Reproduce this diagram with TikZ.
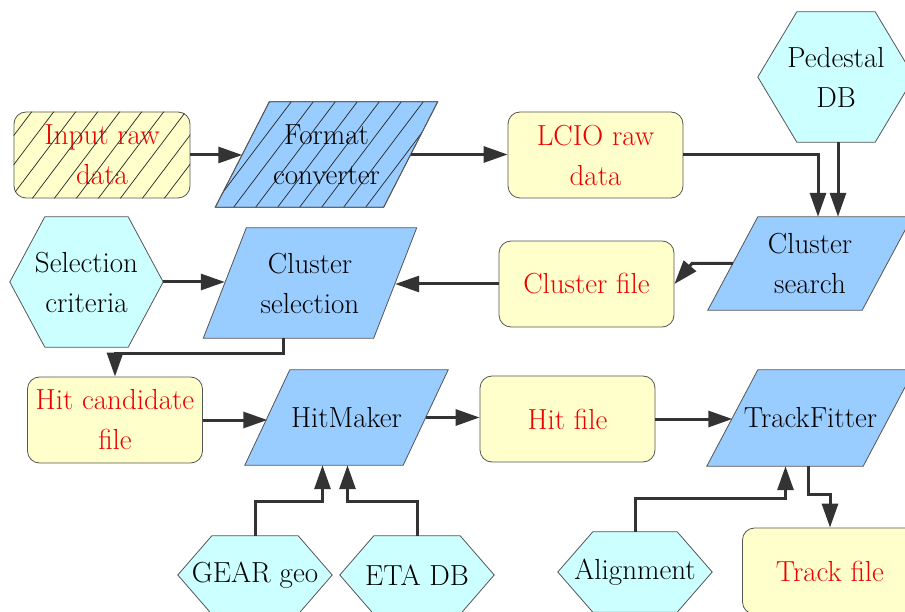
\documentclass[tikz,border=0pt]{standalone}
\usetikzlibrary{arrows.meta,calc,backgrounds}
\definecolor{fileyellow}{HTML}{FFFFCC}
\definecolor{procblue}{HTML}{99CCFF}
\definecolor{hexcyan}{HTML}{CCFFFF}
\definecolor{edgegray}{HTML}{555555}
\definecolor{linedark}{HTML}{333333}
\definecolor{textred}{HTML}{EE0000}
\begin{document}
\begin{tikzpicture}[x=1pt,y=-1pt,
  every node/.style={font=\rmfamily\fontsize{29}{40}\selectfont, align=center, inner sep=0pt},
  filebox/.style={rectangle, rounded corners=12pt, draw=edgegray, line width=0.8pt, fill=fileyellow, text=textred, minimum width=175pt, minimum height=86pt},
  procnode/.style 2 args={rectangle, minimum width=#1, minimum height=#2},
  hexnode/.style 2 args={rectangle, minimum width=#1, minimum height=#2},
  procshape/.style={draw=edgegray, line width=0.8pt, fill=procblue},
  hexshape/.style={draw=edgegray, line width=0.8pt, fill=hexcyan},
  hatchline/.style={draw=black!85, line width=0.7pt},
  conn/.style={draw=linedark, line width=3pt, -{Triangle[length=24pt,width=16pt]}},
]
\useasboundingbox (0,0) rectangle (905,612);
\clip (0,0) rectangle (905,612);

% data files
\node[filebox, minimum width=176pt] (ird) at (102,155) {Input raw\\data};
\node[filebox] (lcio) at (595.5,155) {LCIO raw\\data};
\node[filebox] (cf) at (586.5,284) {Cluster file};
\node[filebox] (hcf) at (115,420) {Hit candidate\\file};
\node[filebox] (hf) at (567.5,419) {Hit file};
\node[filebox] (tkf) at (830,571) {Track file};

% processors
\node[procnode={168pt}{105pt}] (fc) at (326.5,154.5) {Format\\converter};
\node[procnode={154pt}{93pt}] (cs) at (810,263.5) {Cluster\\search};
\node[procnode={170pt}{110pt}] (csel) at (310,283) {Cluster\\selection};
\node[procnode={158pt}{95pt}] (hm) at (346.5,417.5) {HitMaker};
\node[procnode={156pt}{96pt}] (tf) at (810.5,418) {TrackFitter};

% external inputs
\node[hexnode={156pt}{130pt}] (ped) at (836,77) {Pedestal\\DB};
\node[hexnode={153pt}{130pt}] (sel) at (86.5,282) {Selection\\criteria};
\node[hexnode={154pt}{78pt}] (gear) at (255,575) {GEAR geo};
\node[hexnode={154pt}{78pt}] (eta) at (417,575) {ETA DB};
\node[hexnode={154pt}{80pt}] (align) at (635,572) {Alignment};

% hatching of the raw input file
\begin{scope}
  \clip[rounded corners=12pt] (ird.south west) rectangle (ird.north east);
  \foreach \k in {-160,-138,...,200}
    \draw[hatchline] (\k,220) -- (\k+151,20);
\end{scope}

\begin{scope}[on background layer]
  \foreach \n/\o in {fc/54, cs/50, csel/43, hm/45, tf/51}
    \path[procshape] ($(\n.south west)+(-\o/2,0)$) -- ($(\n.north west)+(\o/2,0)$)
      -- ($(\n.north east)+(\o/2,0)$) -- ($(\n.south east)+(-\o/2,0)$) -- cycle;
  \begin{scope}
    \clip ($(fc.south west)+(-27,0)$) -- ($(fc.north west)+(27,0)$)
      -- ($(fc.north east)+(27,0)$) -- ($(fc.south east)+(-27,0)$) -- cycle;
    \foreach \k in {70,92,...,450}
      \draw[hatchline] (\k,220) -- (\k+151,20);
  \end{scope}
  \path[draw=edgegray, line width=0.8pt] ($(fc.south west)+(-27,0)$) -- ($(fc.north west)+(27,0)$)
      -- ($(fc.north east)+(27,0)$) -- ($(fc.south east)+(-27,0)$) -- cycle;
  \foreach \n/\i in {ped/39, sel/35, gear/34, eta/34, align/35}
    \path[hexshape] (\n.west) -- ($(\n.north west)+(\i,0)$) -- ($(\n.north east)+(-\i,0)$)
      -- (\n.east) -- ($(\n.south east)+(-\i,0)$) -- ($(\n.south west)+(\i,0)$) -- cycle;
\end{scope}

% connectors
\draw[conn] (ird.east) -- (ird.east -| fc.west);
\draw[conn] (fc.east) -- (fc.east -| lcio.west);
\draw[conn] (lcio.east) -| ($(cs.north)+(8,0)$);
\draw[conn] ($(ped.south)+(2,0)$) -- ($(cs.north)+(28,0)$);
\draw[conn] (cs.west) -- (692,263.5) -- (cf.east);
\draw[conn] (cf.west) -- (cf.west -| csel.east);
\draw[conn] (sel.east) -- (sel.east -| csel.west);
\draw[conn] ($(csel.south)+(-27,0)$) -- ++(0,15) -| (hcf.north);
\draw[conn] (hcf.east) -- (hcf.east -| hm.west);
\draw[conn] (hm.east) -- (hm.east -| hf.west);
\draw[conn] (hf.east) -- (hf.east -| tf.west);
\draw[conn] ($(tf.south)+(-2,0)$) -- ++(0,28) -| (tkf.north);
\draw[conn] (align.north) -- ++(0,-33) -| ($(tf.south)+(-25,0)$);
\draw[conn] (gear.north) -- ++(0,-34) -| ($(hm.south)+(-24,0)$);
\draw[conn] (eta.north) -- ++(0,-34) -| ($(hm.south)+(1,0)$);
\end{tikzpicture}
\end{document}
